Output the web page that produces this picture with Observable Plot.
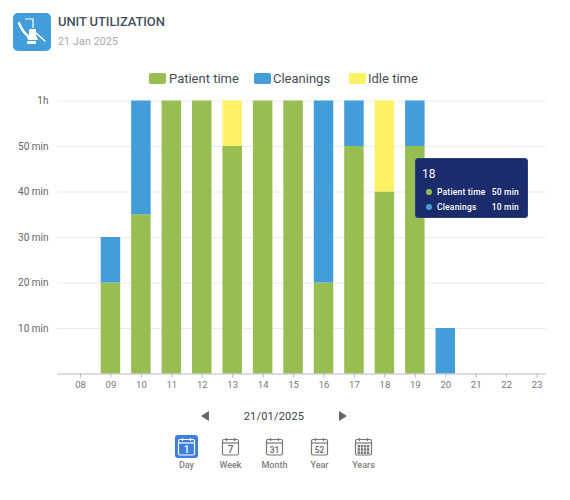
<!DOCTYPE html>
<html>
<head>
<meta charset="utf-8">
<script src="https://cdn.jsdelivr.net/npm/d3@7"></script>
<script src="https://cdn.jsdelivr.net/npm/@observablehq/plot@0.6"></script>
<style>
  html, body { margin: 0; padding: 0; background: #fff; font-family: Roboto, sans-serif; }
  #page { position: relative; width: 570px; height: 500px; overflow: hidden; }
  .abs { position: absolute; white-space: nowrap; }
  #icon { left: 13px; top: 13px; width: 38px; height: 38px; background: #429dd8; border-radius: 5px; }
  #title { left: 58px; top: 14px; font-size: 13px; font-weight: 500; color: #46505a; line-height: 15px; letter-spacing: -0.1px; }
  #date { left: 58px; top: 35px; font-size: 10.5px; color: #a9a9a9; line-height: 13px; letter-spacing: .2px; }
  .sw { height: 11px; width: 17px; border-radius: 2px; top: 73px; }
  .lg { top: 70px; font-size: 13px; line-height: 17px; color: #444c55; }
  #chart { position: absolute; left: 0; top: 90px; }
  #tip { left: 415px; top: 158px; width: 113px; height: 60px; background: #1b2c6c; border-radius: 3px; color: #fff; box-sizing: border-box; border: 1px solid #2c3d7c; }
  #tip .h { position: absolute; left: 6px; top: 8px; font-size: 12px; line-height: 15px; }
  #tip .r { position: absolute; font-size: 8.5px; font-weight: 500; line-height: 11px; white-space: nowrap; letter-spacing: .2px; }
  #tip .d { position: absolute; width: 6px; height: 6px; border-radius: 50%; left: 10px; }
  #nav-date { left: 224px; width: 100px; text-align: center; top: 410px; font-size: 11px; line-height: 14px; color: #3a3f45; letter-spacing: .2px; }
  .tri { top: 411px; width: 0; height: 0; border-top: 5.5px solid transparent; border-bottom: 5.5px solid transparent; }
  .cal { top: 435px; width: 23px; height: 23px; border-radius: 3px; box-sizing: border-box; }
  .cal svg { display: block; }
  .calt { top: 459px; width: 44px; text-align: center; font-size: 9px; font-weight: 500; color: #808080; line-height: 12px; }
</style>
</head>
<body>
<div id="page"></div>
<script>
const hours = ["08","09","10","11","12","13","14","15","16","17","18","19","20","21","22","23"];
const patientTime = [0,20,35,60,60,50,60,60,20,50,40,50,0,0,0,0];
const cleanings   = [0,10,25,0,0,0,0,0,40,10,0,10,10,0,0,0];
const idleTime    = [0,0,0,0,0,10,0,0,0,0,20,0,0,0,0,0];
const seriesNames = ["Patient time","Cleanings","Idle time"];
const seriesColors = ["#97bd53","#429dd8","#fdf165"];
const yTicks = [10,20,30,40,50,60];
const navLabels = ["Day","Week","Month","Year","Years"];
const navNumbers = ["1","7","31","52",""];
const titleText = "UNIT UTILIZATION";
const dateText = "21 Jan 2025";
const navDate = "21/01/2025";
const tipTitle = "18";
const tipRows = [["Patient time","50 min"],["Cleanings","10 min"]];

const seriesValues = [patientTime, cleanings, idleTime];
const rows = seriesNames.flatMap((s, i) =>
  hours.map((h, j) => ({hour: h, series: s, minutes: seriesValues[i][j]})).filter(d => d.minutes > 0));

const page = document.getElementById("page");
function el(cls, id, html, style) {
  const d = document.createElement("div");
  d.className = cls;
  if (id) d.id = id;
  if (html) d.innerHTML = html;
  if (style) d.style.cssText = style;
  page.appendChild(d);
  return d;
}

el("abs", "icon", `<svg width="38" height="38" viewBox="0 0 38 38">
  <path d="M12 6 H20 V15" fill="none" stroke="#fff" stroke-width="1.2"/>
  <path d="M6 10 C8 15 10 19 14 22" fill="none" stroke="#fff" stroke-width="2.4" stroke-linecap="round"/>
  <path d="M17 16 h5 a1 1 0 0 1 1 1 v5 h-7 v-5 a1 1 0 0 1 1 -1z" fill="#fff"/>
  <path d="M13 22 L23 22 L25 27 L15 27 Z" fill="#fff"/>
  <path d="M23 20 L32 28" stroke="#fff" stroke-width="1.5" stroke-linecap="round"/>
  <path d="M14 28 h9 v2 a1 1 0 0 1 -1 1 h-7 a1 1 0 0 1 -1 -1z" fill="#fff"/>
</svg>`);
el("abs", "title", titleText);
el("abs", "date", dateText);

const swX = [149, 254, 349], txX = [169, 273, 368];
seriesNames.forEach((s, i) => {
  el("abs sw", null, "", `left:${swX[i]}px;background:${seriesColors[i]}`);
  el("abs lg", null, s, `left:${txX[i]}px`);
});

const chart = Plot.plot({
  width: 570,
  height: 310,
  marginLeft: 57,
  marginRight: 24,
  marginTop: 10.5,
  marginBottom: 26.5,
  style: {fontFamily: "Roboto, sans-serif", background: "transparent", overflow: "visible"},
  x: {type: "band", domain: hours, range: [64.8, 551.8], round: false, paddingInner: 0.36, paddingOuter: 0.18, label: null},
  y: {domain: [0, 60], label: null},
  color: {domain: seriesNames, range: seriesColors},
  marks: [
    Plot.ruleY(yTicks, {stroke: "#e9ecf3", strokeWidth: 1}),
    Plot.barY(rows, {x: "hour", y: "minutes", fill: "series"}),
    Plot.ruleY([0], {stroke: "#b4b9c1", strokeWidth: 1}),
    Plot.axisX({tickSize: 4, tickPadding: 3, fontSize: 9.5, stroke: "#b4b9c1", color: "#777", label: null}),
    Plot.axisY({ticks: yTicks, tickSize: 0, tickPadding: 9, fontSize: 10, color: "#666", label: null,
      tickFormat: d => d === 60 ? "1h" : `${d} min`})
  ]
});
const holder = el("", "chart");
holder.appendChild(chart);

const tip = el("abs", "tip", `<div class="h">${tipTitle}</div>`);
const rowTop = [28, 43];
const dotColors = seriesColors.slice(0, 2);
tipRows.forEach((r, i) => {
  tip.insertAdjacentHTML("beforeend",
    `<div class="d" style="top:${rowTop[i] + 2}px;background:${dotColors[i]}"></div>
     <div class="r" style="left:21px;top:${rowTop[i]}px">${r[0]}</div>
     <div class="r" style="right:8px;top:${rowTop[i]}px">${r[1]}</div>`);
});

el("abs tri", null, "", "left:201px;border-right:8px solid #666");
el("abs", "nav-date", navDate);
el("abs tri", null, "", "left:339px;border-left:8px solid #666");

const navX = [175, 219, 263, 308, 352];
navLabels.forEach((lab, i) => {
  const active = i === 0;
  const c = active ? "#fff" : "#777";
  const body = i === 4
    ? d3.range(3).flatMap(r => d3.range(4).map(k =>
        `<rect x="${5.6 + k * 3.1}" y="${10 + r * 3.2}" width="2.4" height="2.5" fill="${c}"/>`)).join("")
    : `<text x="11.5" y="17.6" text-anchor="middle" font-size="${i === 2 || i === 3 ? 8.5 : 10}" font-family="Roboto" font-weight="500" fill="${active ? "#fff" : "#666"}">${navNumbers[i]}</text>`;
  el("abs cal", null,
    `<svg width="23" height="23" viewBox="0 0 23 23">
      <rect x="3.5" y="4.5" width="16" height="15.5" rx="1.5" fill="none" stroke="${c}" stroke-width="1.2"/>
      <path d="M3.5 8 H19.5" stroke="${c}" stroke-width="1.2"/>
      <path d="M7.5 3 V6 M15.5 3 V6" stroke="${c}" stroke-width="1.2"/>
      ${body}
    </svg>`,
    `left:${navX[i]}px;background:${active ? "#3d7fe0" : "transparent"}`);
  el("abs calt", null, lab, `left:${navX[i] - 10.5}px`);
});
</script>
</body>
</html>
